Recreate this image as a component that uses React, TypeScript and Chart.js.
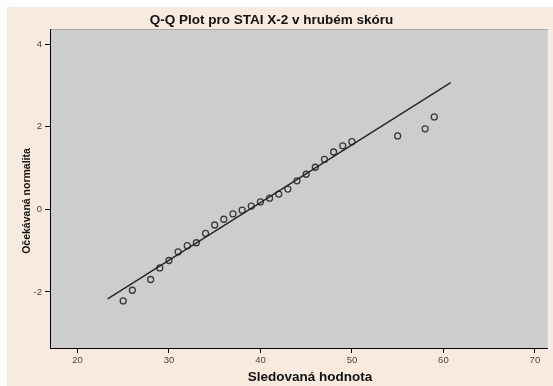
import React, { useEffect, useRef } from "react";
import { Chart, registerables } from "chart.js";

Chart.register(...registerables);

const observed = [25, 26, 28, 29, 30, 31, 32, 33, 34, 35, 36, 37, 38, 39, 40, 41, 42, 43, 44, 45, 46, 47, 48, 49, 50, 55, 58, 59];
const expected = [-2.22, -1.96, -1.7, -1.42, -1.24, -1.03, -0.88, -0.81, -0.58, -0.38, -0.24, -0.11, -0.02, 0.08, 0.18, 0.27, 0.37, 0.49, 0.69, 0.85, 1.02, 1.21, 1.39, 1.54, 1.64, 1.78, 1.95, 2.24];
const lineX = [23.3, 60.8];
const lineY = [-2.17, 3.07];
const xTicks = [20, 30, 40, 50, 60, 70];
const yTicks = [-2, 0, 2, 4];

const titleText = "Q-Q Plot pro STAI X-2 v hrubém skóru";
const xTitle = "Sledovaná hodnota";
const yTitle = "Očekávaná normalita";

const FONT = "'Liberation Sans', Arial, sans-serif";

const decor = {
  id: "decor",
  beforeDraw(chart: any) {
    const { ctx, chartArea: a, width, height } = chart;
    ctx.save();
    ctx.fillStyle = "#ffffff";
    ctx.fillRect(0, 0, width, height);
    ctx.fillStyle = "#f9eadf";
    ctx.fillRect(7, 7, width - 7, height - 7);
    ctx.fillStyle = "#cdcdcd";
    ctx.fillRect(a.left, a.top, a.right - a.left, a.bottom - a.top);
    ctx.strokeStyle = "#a9a9a9";
    ctx.lineWidth = 1;
    ctx.beginPath();
    ctx.moveTo(a.left, a.top + 0.5);
    ctx.lineTo(a.right, a.top + 0.5);
    ctx.stroke();
    ctx.restore();
  },
  afterDraw(chart: any) {
    const { ctx } = chart;
    ctx.save();
    ctx.fillStyle = "#111111";
    ctx.textAlign = "center";
    ctx.textBaseline = "middle";
    ctx.font = `bold 13.5px ${FONT}`;
    ctx.fillText(titleText, 271.5, 20);
    ctx.font = `bold 13.5px ${FONT}`;
    ctx.fillText(xTitle, 310, 377);
    ctx.translate(27, 201);
    ctx.rotate(-Math.PI / 2);
    ctx.font = `bold 10.5px ${FONT}`;
    ctx.fillText(yTitle, 0, 0);
    ctx.restore();
  },
};

export default function App() {
  const ref = useRef<HTMLCanvasElement>(null);
  useEffect(() => {
    document.body.style.margin = "0";
    const canvas = ref.current!;
    const chart = new Chart(canvas, {
      type: "scatter",
      data: {
        datasets: [
          {
            type: "line",
            data: lineX.map((x, i) => ({ x, y: lineY[i] })),
            borderColor: "#222222",
            borderWidth: 1.3,
            pointRadius: 0,
            fill: false,
          } as any,
          {
            type: "scatter",
            data: observed.map((x, i) => ({ x, y: expected[i] })),
            pointStyle: "circle",
            pointRadius: 3,
            backgroundColor: "rgba(0,0,0,0)",
            borderColor: "#3a3a3a",
            borderWidth: 1.3,
          },
        ],
      },
      options: {
        animation: false,
        responsive: false,
        maintainAspectRatio: false,
        devicePixelRatio: 1,
        layout: { padding: { top: 29, right: 0, left: 0, bottom: 0 } },
        plugins: { legend: { display: false }, tooltip: { enabled: false }, title: { display: false } },
        scales: {
          x: {
            type: "linear",
            min: 17,
            max: 71.4,
            afterFit: (s: any) => { s.height = 38; },
            afterBuildTicks: (s: any) => { s.ticks = xTicks.map((v) => ({ value: v })); },
            grid: { display: true, drawOnChartArea: false, drawTicks: true, tickLength: 5, color: "#000000", lineWidth: 1 },
            border: { display: true, color: "#000000", width: 1 },
            ticks: { color: "#444444", font: { family: FONT, size: 9.5 }, padding: 2, maxRotation: 0 },
          },
          y: {
            type: "linear",
            min: -3.36,
            max: 4.37,
            afterFit: (s: any) => { s.width = 50; },
            afterBuildTicks: (s: any) => { s.ticks = yTicks.map((v) => ({ value: v })); },
            grid: { display: true, drawOnChartArea: false, drawTicks: true, tickLength: 5, color: "#000000", lineWidth: 1 },
            border: { display: true, color: "#000000", width: 1 },
            ticks: { color: "#444444", font: { family: FONT, size: 9.5 }, padding: 3 },
          },
        },
      },
      plugins: [decor],
    });
    return () => chart.destroy();
  }, []);
  return <canvas ref={ref} width={553} height={386} style={{ display: "block" }} />;
}
